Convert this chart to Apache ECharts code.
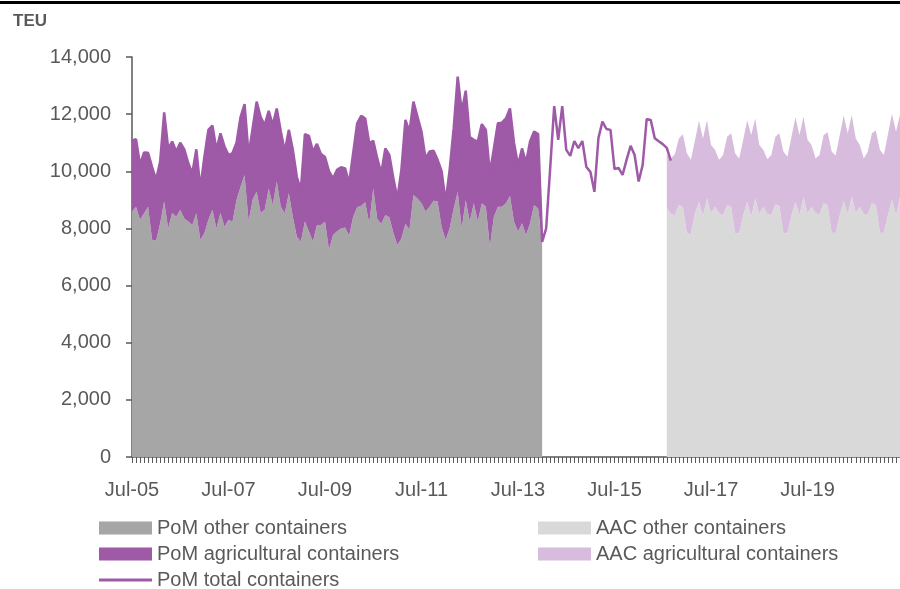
<!DOCTYPE html>
<html>
<head>
<meta charset="utf-8">
<title>PoM and AAC containers</title>
<script src="https://cdn.jsdelivr.net/npm/echarts@6/dist/echarts.min.js"></script>
<style>
  html, body { margin: 0; padding: 0; background: #fff; }
  #chart { width: 900px; height: 589px; }
</style>
</head>
<body>
<div id="chart"></div>
<script>
// monthly axis, Jul-05 .. Jun-21
const monthNames = ['Jan', 'Feb', 'Mar', 'Apr', 'May', 'Jun', 'Jul', 'Aug', 'Sep', 'Oct', 'Nov', 'Dec'];
const startYear = 2005, startMonth = 6, monthCount = 192;
const categories = [];
for (let k = 0; k < monthCount; k++) {
  const m = (startMonth + k) % 12;
  const y = startYear + Math.floor((startMonth + k) / 12);
  categories.push(monthNames[m] + '-' + String(y % 100).padStart(2, '0'));
}

const yTicks = [0, 2000, 4000, 6000, 8000, 10000, 12000, 14000];

// Port of Melbourne, Jul-05 .. Jan-14
const pomOther = [
  8590, 8760, 8300, 8530, 8760, 7600, 7570, 8180, 8940, 8000,
  8550, 8410, 8650, 8350, 8240, 8120, 8530, 7600, 7830, 8300,
  8650, 8000, 8550, 8060, 8300, 8240, 9000, 9460, 9870, 8240,
  9000, 9290, 8550, 8650, 9400, 8820, 9640, 8760, 8530, 9230,
  8410, 7710, 7540, 8240, 7890, 7540, 8120, 8120, 8240, 7250,
  7770, 7900, 8000, 8030, 7740, 8410, 8740, 8790, 8920, 8180,
  9400, 8320, 8160, 8470, 8390, 7850, 7420, 7650, 8160, 7950,
  9170, 9050, 8880, 8590, 8760, 8970, 8950, 8050, 7600, 8000,
  8700, 9280, 8000, 8990, 8240, 8880, 8240, 8880, 8760, 7360,
  8410, 8760, 8760, 8880, 9140, 8240, 7890, 8180, 7770, 8180,
  8820, 8700, 7480
];
const pomAgri = [
  2480, 2360, 1920, 2130, 1890, 2550, 2130, 2160, 3120, 2800,
  2490, 2280, 2350, 2420, 2040, 1810, 2240, 1800, 2670, 3150,
  2950, 2750, 2780, 2810, 2270, 2400, 2000, 2440, 2480, 2330,
  2500, 3150, 3350, 2970, 2720, 2800, 2560, 2640, 2160, 2220,
  2340, 2090, 1810, 3060, 3350, 3150, 2840, 2480, 2260, 2750,
  1980, 2150, 2140, 2070, 1840, 2220, 2940, 3150, 2930, 2800,
  1670, 2130, 1770, 2330, 2180, 1910, 1630, 2400, 3640, 3440,
  3270, 2860, 2510, 1860, 1930, 1750, 1450, 1950, 1340, 2050,
  2800, 4030, 4090, 3830, 2960, 2220, 2800, 2770, 2690, 2570,
  2390, 2920, 2940, 2970, 3060, 2760, 2330, 2620, 2530, 2860,
  2570, 2600, 50
];
// total line, Jul-05 .. Aug-16
const pomTotal = [
  11070, 11120, 10220, 10660, 10650, 10150, 9700, 10340, 12060, 10800,
  11040, 10690, 11000, 10770, 10280, 9930, 10770, 9400, 10500, 11450,
  11600, 10750, 11330, 10870, 10570, 10640, 11000, 11900, 12350, 10570,
  11500, 12440, 11900, 11620, 12120, 11620, 12200, 11400, 10690, 11450,
  10750, 9800, 9350, 11300, 11240, 10690, 10960, 10600, 10500, 10000,
  9750, 10050, 10140, 10100, 9580, 10630, 11680, 11940, 11850, 10980,
  11070, 10450, 9930, 10800, 10570, 9760, 9050, 10050, 11800, 11390,
  12440, 11910, 11390, 10450, 10690, 10720, 10400, 10000, 8940, 10050,
  11500, 13310, 12090, 12820, 11200, 11100, 11040, 11650, 11450, 9930,
  10800, 11680, 11700, 11850, 12200, 11000, 10220, 10800, 10300, 11040,
  11390, 11300, 7530,
  8000, 10100, 12280, 11100, 12280, 10750, 10540, 11060, 10810, 11060,
  10150, 9980, 9280, 11160, 11740, 11480, 11450, 10080, 10120, 9870,
  10400, 10890, 10570, 9640, 10220, 11830, 11800, 11160, 11050, 10950,
  10820, 10370
];

// AAC, Aug-16 .. Jun-21
const aacStart = 133;
const aacOther = [
  8705, 8505, 8470, 8820, 8760, 7830, 7805, 8530, 8935, 8435, 9055, 8530,
  8760, 8530, 8470, 8820, 8760, 7830, 7830, 8450, 8935, 8410, 9055, 8505,
  8760, 8505, 8470, 8845, 8785, 7830, 7830, 8450, 8935, 8470, 9090, 8530,
  8760, 8530, 8495, 8880, 8820, 7850, 7850, 8450, 8960, 8505, 9110, 8550,
  8760, 8505, 8505, 8880, 8820, 7850, 7850, 8480, 9000, 8470, 9110
];
const aacAgri = [
  1895, 1945, 2130, 2330, 2540, 2800, 2595, 2550, 2835, 2715, 2735, 2390,
  1990, 1870, 2100, 2390, 2570, 2800, 2620, 2650, 2855, 2860, 2795, 2415,
  1990, 1915, 2100, 2365, 2545, 2860, 2680, 2750, 2955, 2800, 2820, 2570,
  2160, 1920, 2075, 2390, 2550, 2840, 2700, 2800, 2990, 2825, 2860, 2600,
  2160, 1945, 2185, 2450, 2610, 2900, 2720, 2820, 3010, 2920, 2860
];

function padEnd(arr) {
  return arr.concat(new Array(monthCount - arr.length).fill(null));
}
function padStart(arr, start) {
  return new Array(start).fill(null).concat(arr);
}

const FONT = "'Liberation Sans', Arial, sans-serif";
const TEXT = '#595959';
const C_POM_OTHER = '#a6a6a6';
const C_POM_AGRI = '#9e59a7';
const C_AAC_OTHER = '#d9d9d9';
const C_AAC_AGRI = '#d8bcdd';

function areaSeries(name, stack, color, data) {
  return {
    name: name,
    type: 'line',
    stack: stack,
    data: data,
    symbol: 'none',
    showSymbol: false,
    lineStyle: { width: 0, color: color },
    itemStyle: { color: color },
    areaStyle: { color: color, opacity: 1 }
  };
}

const legendBase = {
  orient: 'vertical',
  padding: 0,
  itemWidth: 53, itemHeight: 13, itemGap: 6,
  textStyle: { fontFamily: FONT, fontSize: 20, color: TEXT }
};

const chart = echarts.init(document.getElementById('chart'));
chart.setOption({
  animation: false,
  textStyle: { fontFamily: FONT },
  grid: { left: 132, right: 0, top: 57, bottom: 132 },
  graphic: [
    { type: 'rect', left: 0, top: 1, shape: { width: 900, height: 3 }, style: { fill: '#000' } },
    { type: 'text', left: 13, top: 13, style: { text: 'TEU', font: 'bold 17px ' + FONT, fill: TEXT } }
  ],
  legend: [
    Object.assign({}, legendBase, {
      left: 99, top: 518,
      data: [
        { name: 'PoM other containers', icon: 'rect' },
        { name: 'PoM agricultural containers', icon: 'rect' }
      ]
    }),
    Object.assign({}, legendBase, {
      left: 99, top: 570,
      itemHeight: 3,
      data: [{ name: 'PoM total containers', icon: 'rect' }]
    }),
    Object.assign({}, legendBase, {
      left: 538, top: 518,
      data: [
        { name: 'AAC other containers', icon: 'rect' },
        { name: 'AAC agricultural containers', icon: 'rect' }
      ]
    })
  ],
  xAxis: {
    type: 'category',
    data: categories,
    boundaryGap: false,
    axisLine: { lineStyle: { color: TEXT, width: 1.5 } },
    axisTick: { show: true, interval: 0, length: 6, lineStyle: { color: TEXT, width: 1 } },
    axisLabel: {
      interval: (idx) => idx % 24 === 0,
      fontFamily: FONT, fontSize: 20, color: TEXT, margin: 23
    },
    splitLine: { show: false }
  },
  yAxis: {
    type: 'value',
    min: yTicks[0],
    max: yTicks[yTicks.length - 1],
    interval: yTicks[1] - yTicks[0],
    axisLine: { show: true, lineStyle: { color: TEXT, width: 1.5 } },
    axisTick: { show: true, length: 6, lineStyle: { color: TEXT, width: 1.5 } },
    axisLabel: {
      formatter: (v) => v.toLocaleString('en-US'),
      fontFamily: FONT, fontSize: 20, color: TEXT, margin: 21
    },
    splitLine: { show: false }
  },
  series: [
    areaSeries('PoM other containers', 'pom', C_POM_OTHER, padEnd(pomOther)),
    areaSeries('PoM agricultural containers', 'pom', C_POM_AGRI, padEnd(pomAgri)),
    areaSeries('AAC other containers', 'aac', C_AAC_OTHER, padStart(aacOther, aacStart)),
    areaSeries('AAC agricultural containers', 'aac', C_AAC_AGRI, padStart(aacAgri, aacStart)),
    {
      name: 'PoM total containers',
      type: 'line',
      data: padEnd(pomTotal),
      symbol: 'none',
      showSymbol: false,
      z: 5,
      lineStyle: { width: 2.5, color: C_POM_AGRI },
      itemStyle: { color: C_POM_AGRI }
    }
  ]
});
</script>
</body>
</html>
